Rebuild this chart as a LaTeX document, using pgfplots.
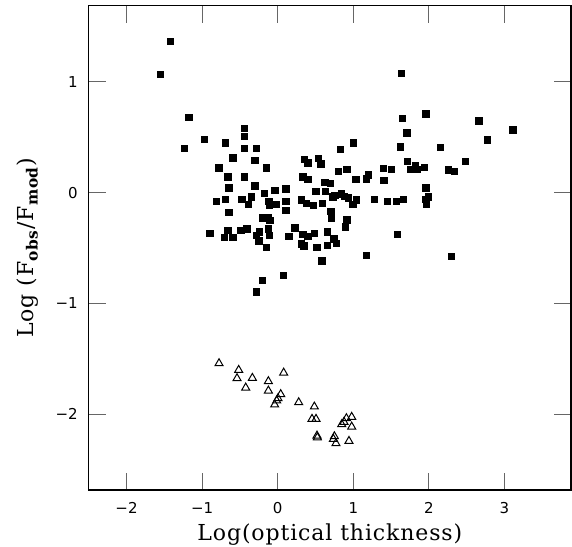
\documentclass[border=0pt]{standalone}
\usepackage{fontspec}
\usepackage{pgfplots}
\pgfplotsset{compat=1.18}
\newfontfamily\labfont[LetterSpace=4]{DejaVu Serif}
\newfontfamily\tickfont{DejaVu Sans}

% squares: observed sample
\pgfplotstableread{
x y
-1.419 1.363
-1.552 1.069
-1.177 0.677
-0.437 0.581
-0.966 0.482
-0.440 0.509
-0.688 0.449
-1.234 0.401
-0.440 0.401
-0.282 0.401
-0.595 0.314
-0.304 0.292
-0.780 0.223
-0.146 0.223
-0.661 0.142
-0.440 0.142
0.335 0.142
0.401 0.121
-0.644 0.042
-0.304 0.063
-0.036 0.018
0.106 0.033
-0.172 -0.009
-0.807 -0.078
-0.688 -0.060
-0.476 -0.060
-0.344 -0.039
-0.384 -0.108
-0.115 -0.078
-0.106 -0.117
-0.017 -0.108
0.106 -0.078
0.106 -0.159
0.313 -0.066
0.380 -0.099
-0.644 -0.177
-0.194 -0.228
-0.128 -0.228
-0.102 -0.249
-0.896 -0.366
-0.661 -0.339
-0.485 -0.339
-0.406 -0.328
-0.242 -0.355
-0.119 -0.328
-0.282 -0.384
-0.110 -0.384
-0.701 -0.406
-0.595 -0.406
-0.247 -0.436
0.225 -0.319
0.146 -0.397
0.335 -0.375
0.401 -0.397
0.313 -0.463
0.348 -0.481
-0.146 -0.496
0.075 -0.745
-0.202 -0.791
-0.278 -0.894
1.001 0.449
0.829 0.388
1.627 0.412
0.357 0.301
0.397 0.268
0.542 0.310
0.569 0.259
1.716 0.280
1.825 0.241
1.759 0.211
1.848 0.211
1.398 0.220
1.504 0.211
0.807 0.193
0.917 0.211
1.200 0.162
1.173 0.126
1.036 0.121
1.406 0.112
0.622 0.094
0.697 0.085
0.503 0.009
0.635 0.009
0.731 -0.039
0.758 -0.023
0.843 -0.012
0.886 -0.036
0.939 -0.048
1.041 -0.066
0.996 -0.105
0.476 -0.117
0.595 -0.096
1.283 -0.060
1.451 -0.078
1.570 -0.078
1.663 -0.060
0.705 -0.168
0.714 -0.228
0.913 -0.246
0.899 -0.310
0.489 -0.366
0.657 -0.355
0.745 -0.418
0.780 -0.457
0.520 -0.493
0.657 -0.475
1.587 -0.379
1.177 -0.565
0.586 -0.614
1.636 1.078
1.958 0.710
1.649 0.668
2.663 0.647
3.112 0.566
2.774 0.478
1.710 0.539
2.152 0.410
1.944 0.229
2.483 0.280
2.258 0.205
2.341 0.193
1.958 0.042
1.993 -0.039
1.954 -0.060
1.967 -0.102
2.298 -0.574
}\squares

% triangles: second sample
\pgfplotstableread{
x y
-0.776 -1.540
-0.516 -1.600
-0.538 -1.675
-0.335 -1.672
0.079 -1.625
-0.123 -1.702
-0.423 -1.760
-0.123 -1.787
0.040 -1.819
0.004 -1.856
-0.013 -1.877
-0.040 -1.913
0.278 -1.892
0.485 -1.931
0.454 -2.042
0.507 -2.042
0.979 -2.024
0.909 -2.036
0.877 -2.069
0.847 -2.090
0.979 -2.112
0.520 -2.193
0.525 -2.209
0.750 -2.199
0.737 -2.223
0.771 -2.262
0.943 -2.241
}\triangles

\begin{document}
\begin{tikzpicture}
\begin{axis}[
    scale only axis,
    width=241.15pt, height=242.35pt,
    xmin=-2.5, xmax=3.88,
    ymin=-2.683, ymax=1.691,
    xtick={-2,-1,0,1,2,3},
    xticklabels={−2,−1,0,1,2,3},
    ytick={-2,-1,0,1},
    yticklabels={−2,−1,0,1},
    tick align=inside,
    major tick length=8.75pt,
    tick style={black!60, line width=0.5pt},
    axis line style={line width=0.6pt},
    ticklabel style={font=\tickfont\fontsize{7.5}{9}\selectfont},
    xticklabel style={yshift=-2.5pt},
    yticklabel style={xshift=-2pt},
    xlabel={Log(optical thickness)},
    ylabel={Log (F\textsubscript{\bfseries obs}/F\textsubscript{\bfseries mod})},
    label style={font=\labfont\fontsize{11}{13}\selectfont},
    xlabel style={at={(axis description cs:0.5,-0.1032)}, anchor=base},
    ylabel style={at={(axis description cs:-0.1144,0.5)}, anchor=base},
]
\addplot[only marks, mark=square*, mark size=1.6pt, black] table {\squares};
\addplot[only marks, mark=triangle, mark size=2.3pt, black, mark options={line width=0.5pt}] table {\triangles};
\end{axis}
\pgfresetboundingbox
\path (-44.35pt,-28pt) rectangle (241.65pt,245pt);
\end{tikzpicture}
\end{document}
